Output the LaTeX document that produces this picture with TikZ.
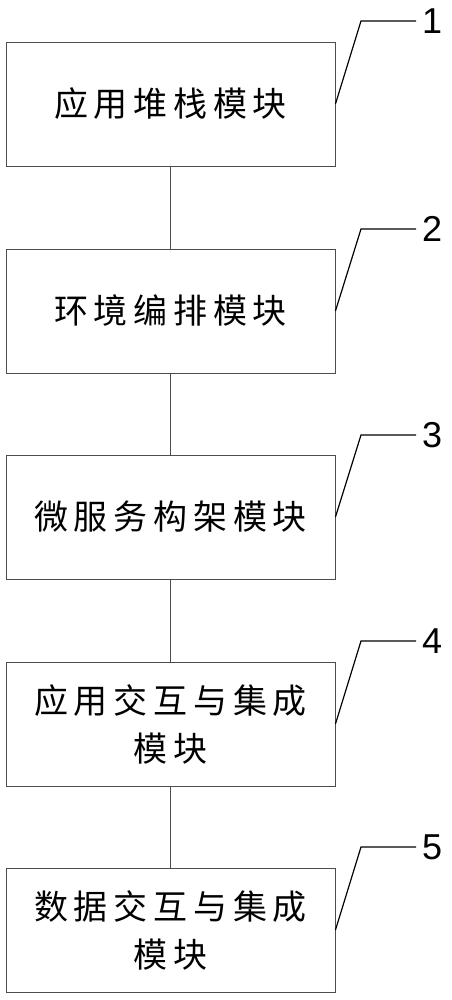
\documentclass[tikz,border=0pt]{standalone}
\usepackage{fontspec}
\newfontfamily\cjk[LetterSpace=17]{Noto Sans CJK SC}
\newfontfamily\numfont{Liberation Sans}
\begin{document}
\begin{tikzpicture}[x=1pt,y=-1pt,
  modbox/.style={draw=black!70,line width=0.9pt,minimum width=329pt,minimum height=124pt,
    inner sep=0pt,align=center,font=\cjk\fontsize{34}{48}\selectfont},
  link/.style={draw=black!70,line width=0.9pt},
  leader/.style={draw=black,line width=1.2pt},
  numlabel/.style={font=\numfont\fontsize{36}{36}\selectfont,inner sep=0pt,anchor=west}]
\useasboundingbox (0,0) rectangle (451,1000);
\node[modbox] (m1) at (170.5,104) {应用堆栈模块};
\node[modbox] (m2) at (170.5,311) {环境编排模块};
\node[modbox] (m3) at (170.5,517) {微服务构架模块};
\node[modbox] (m4) at (170.5,724) {应用交互与集成\\模块};
\node[modbox] (m5) at (170.5,930) {数据交互与集成\\模块};
\draw[link] (m1.south) -- (m2.north);
\draw[link] (m2.south) -- (m3.north);
\draw[link] (m3.south) -- (m4.north);
\draw[link] (m4.south) -- (m5.north);
\foreach \i/\y in {1/21,2/229,3/435,4/641,5/847}{
  \coordinate (k\i) at (361,\y);
  \coordinate (e\i) at (416,\y);
  \node[numlabel] (n\i) at (422,\y) {\i};
  \draw[leader] (m\i.east) -- (k\i) -- (e\i);
}
\end{tikzpicture}
\end{document}
